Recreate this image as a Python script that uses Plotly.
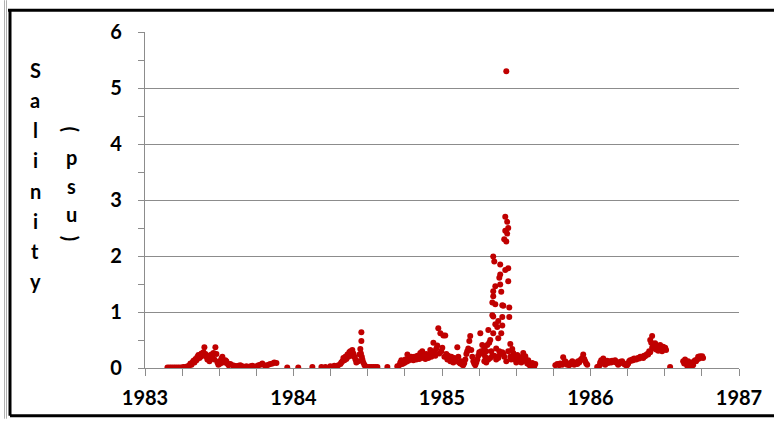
import plotly.graph_objects as go

# ---- data (decimal year, salinity psu) ----
yr_1983 = [1983.151, 1983.165, 1983.178, 1983.192, 1983.205, 1983.219, 1983.232, 1983.246,
           1983.259, 1983.273, 1983.286, 1983.300, 1983.306, 1983.313, 1983.320, 1983.326,
           1983.333, 1983.340, 1983.347, 1983.353, 1983.360, 1983.367, 1983.374, 1983.380,
           1983.387, 1983.394, 1983.400, 1983.407, 1983.414, 1983.420, 1983.427, 1983.434,
           1983.441, 1983.447, 1983.454, 1983.461, 1983.467, 1983.474, 1983.481, 1983.488,
           1983.494, 1983.501, 1983.508, 1983.515, 1983.521, 1983.528, 1983.535, 1983.541,
           1983.548, 1983.555, 1983.562, 1983.575, 1983.589, 1983.602, 1983.616, 1983.629,
           1983.642, 1983.656, 1983.669, 1983.683, 1983.696, 1983.710, 1983.723, 1983.737,
           1983.750, 1983.764, 1983.777, 1983.790, 1983.804, 1983.817, 1983.831, 1983.844,
           1983.858, 1983.871, 1983.885, 1983.958, 1984.032]
sal_1983 = [0.01, 0.01, 0.01, 0.01, 0.01, 0.01, 0.01, 0.01,
            0.02, 0.02, 0.03, 0.05, 0.08, 0.06, 0.10, 0.13,
            0.10, 0.16, 0.14, 0.20, 0.23, 0.18, 0.20, 0.26,
            0.22, 0.28, 0.37, 0.25, 0.20, 0.15, 0.22, 0.12,
            0.18, 0.24, 0.20, 0.27, 0.15, 0.37, 0.25, 0.10,
            0.06, 0.12, 0.08, 0.17, 0.20, 0.14, 0.10, 0.14,
            0.12, 0.08, 0.05, 0.07, 0.05, 0.04, 0.03, 0.04,
            0.05, 0.03, 0.02, 0.03, 0.02, 0.03, 0.04, 0.02,
            0.03, 0.05, 0.06, 0.08, 0.05, 0.04, 0.06, 0.07,
            0.08, 0.10, 0.09, 0.01, 0.01]

yr_1984 = [1984.127, 1984.188, 1984.215, 1984.248, 1984.262, 1984.275, 1984.289, 1984.302,
           1984.316, 1984.322, 1984.329, 1984.336, 1984.343, 1984.349, 1984.356, 1984.363,
           1984.369, 1984.376, 1984.383, 1984.390, 1984.396, 1984.403, 1984.410, 1984.417,
           1984.423, 1984.437, 1984.444, 1984.450, 1984.454, 1984.457, 1984.457, 1984.460,
           1984.464, 1984.470, 1984.477, 1984.484, 1984.497, 1984.511, 1984.524, 1984.538,
           1984.551, 1984.565, 1984.632]
sal_1984 = [0.02, 0.02, 0.02, 0.03, 0.02, 0.04, 0.03, 0.05,
            0.07, 0.10, 0.12, 0.18, 0.14, 0.20, 0.16, 0.24,
            0.20, 0.28, 0.30, 0.22, 0.32, 0.26, 0.20, 0.15,
            0.10, 0.12, 0.24, 0.34, 0.26, 0.64, 0.48, 0.20,
            0.15, 0.10, 0.06, 0.03, 0.02, 0.02, 0.02, 0.02,
            0.02, 0.02, 0.02]

yr_1985 = [1984.699, 1984.713, 1984.719, 1984.726, 1984.733, 1984.740, 1984.746, 1984.753,
           1984.760, 1984.767, 1984.773, 1984.780, 1984.787, 1984.793, 1984.800, 1984.807,
           1984.814, 1984.820, 1984.827, 1984.834, 1984.841, 1984.847, 1984.854, 1984.861,
           1984.867, 1984.874, 1984.881, 1984.888, 1984.894, 1984.901, 1984.908, 1984.915,
           1984.921, 1984.928, 1984.935, 1984.942, 1984.948, 1984.955, 1984.962, 1984.968,
           1984.975, 1984.982, 1984.989, 1984.995, 1985.002, 1985.009, 1985.016, 1985.022,
           1985.029, 1985.036, 1985.042, 1985.049, 1985.056, 1985.063, 1985.069, 1985.076,
           1985.083, 1985.090, 1985.096, 1985.103, 1985.110, 1985.116, 1985.123, 1985.130,
           1985.137, 1985.143, 1985.150, 1985.157, 1985.164, 1985.170, 1985.177, 1985.184,
           1985.190, 1985.197, 1985.204, 1985.211, 1985.217, 1985.224, 1985.231, 1985.238,
           1985.244, 1985.251, 1985.258, 1985.264, 1985.271, 1985.278, 1985.285, 1985.285,
           1985.291, 1985.298, 1985.298, 1985.305, 1985.312, 1985.312, 1985.318, 1985.325,
           1985.325, 1985.332, 1985.339, 1985.339, 1985.339, 1985.345, 1985.345, 1985.345,
           1985.345, 1985.345, 1985.352, 1985.352, 1985.359, 1985.359, 1985.359, 1985.365,
           1985.365, 1985.372, 1985.372, 1985.379, 1985.379, 1985.379, 1985.386, 1985.386,
           1985.392, 1985.392, 1985.392, 1985.392, 1985.399, 1985.399, 1985.406, 1985.406,
           1985.406, 1985.406, 1985.413, 1985.413, 1985.419, 1985.419, 1985.426, 1985.426,
           1985.426, 1985.433, 1985.433, 1985.433, 1985.439, 1985.439, 1985.446, 1985.446,
           1985.446, 1985.446, 1985.453, 1985.453, 1985.460, 1985.460, 1985.466, 1985.473,
           1985.480, 1985.487, 1985.493, 1985.500, 1985.507, 1985.514, 1985.520, 1985.527,
           1985.534, 1985.540, 1985.547, 1985.554, 1985.561, 1985.567, 1985.574, 1985.581,
           1985.587, 1985.594, 1985.601, 1985.608, 1985.614, 1985.621, 1985.628]
sal_1985 = [0.03, 0.05, 0.10, 0.14, 0.07, 0.12, 0.09, 0.15,
            0.11, 0.24, 0.13, 0.18, 0.15, 0.20, 0.17, 0.14,
            0.20, 0.18, 0.15, 0.22, 0.19, 0.16, 0.27, 0.21,
            0.30, 0.18, 0.22, 0.16, 0.25, 0.20, 0.18, 0.23,
            0.32, 0.20, 0.26, 0.45, 0.30, 0.22, 0.35, 0.40,
            0.71, 0.26, 0.62, 0.30, 0.36, 0.58, 0.20, 0.58,
            0.25, 0.15, 0.22, 0.18, 0.12, 0.20, 0.16, 0.10,
            0.18, 0.14, 0.12, 0.37, 0.20, 0.10, 0.08, 0.12,
            0.06, 0.05, 0.09, 0.15, 0.25, 0.30, 0.35, 0.48,
            0.57, 0.32, 0.20, 0.12, 0.08, 0.05, 0.10, 0.15,
            0.22, 0.28, 0.62, 0.30, 0.41, 0.25, 0.35, 0.12,
            0.20, 0.30, 0.10, 0.41, 0.68, 0.15, 0.45, 0.50,
            0.18, 0.30, 1.17, 0.94, 0.22, 1.99, 1.37, 1.28,
            0.92, 0.62, 1.90, 0.22, 1.46, 1.14, 0.78, 0.35,
            0.15, 0.73, 0.20, 0.84, 0.53, 0.18, 1.61, 0.30,
            1.85, 1.67, 1.49, 0.25, 1.36, 0.62, 1.12, 0.91,
            0.76, 0.28, 1.11, 0.25, 2.30, 0.20, 2.70, 2.45,
            1.75, 2.26, 5.30, 0.12, 2.61, 2.40, 2.50, 1.78,
            1.55, 0.30, 1.08, 0.91, 0.43, 0.20, 0.15, 0.34,
            0.27, 0.20, 0.15, 0.10, 0.23, 0.12, 0.18, 0.16,
            0.10, 0.20, 0.27, 0.15, 0.21, 0.12, 0.08, 0.14,
            0.06, 0.04, 0.05, 0.09, 0.02, 0.03, 0.07]

yr_1985b = [1985.763, 1985.776, 1985.789, 1985.796, 1985.810, 1985.816, 1985.823, 1985.830,
            1985.837, 1985.843, 1985.850, 1985.857, 1985.863, 1985.870, 1985.877, 1985.884,
            1985.890, 1985.897, 1985.904, 1985.911, 1985.917, 1985.924, 1985.931, 1985.937,
            1985.944, 1985.951, 1985.958, 1985.964, 1985.971, 1985.978]
sal_1985b = [0.05, 0.07, 0.05, 0.08, 0.06, 0.19, 0.10, 0.12,
             0.08, 0.06, 0.07, 0.05, 0.09, 0.07, 0.12, 0.10,
             0.06, 0.08, 0.10, 0.07, 0.12, 0.10, 0.14, 0.15,
             0.18, 0.24, 0.16, 0.12, 0.08, 0.06]

yr_1986 = [1986.045, 1986.052, 1986.059, 1986.065, 1986.072, 1986.079, 1986.086, 1986.092,
           1986.099, 1986.106, 1986.112, 1986.119, 1986.126, 1986.133, 1986.139, 1986.146,
           1986.153, 1986.160, 1986.166, 1986.173, 1986.180, 1986.186, 1986.193, 1986.200,
           1986.207, 1986.213, 1986.220, 1986.227, 1986.234, 1986.240, 1986.247, 1986.254,
           1986.260, 1986.267, 1986.274, 1986.281, 1986.287, 1986.294, 1986.301, 1986.308,
           1986.314, 1986.321, 1986.328, 1986.335, 1986.341, 1986.348, 1986.355, 1986.361,
           1986.368, 1986.375, 1986.382, 1986.388, 1986.395, 1986.402, 1986.402, 1986.409,
           1986.415, 1986.415, 1986.422, 1986.429, 1986.435, 1986.442, 1986.449, 1986.456,
           1986.462, 1986.469, 1986.476, 1986.482, 1986.489, 1986.496, 1986.503, 1986.509,
           1986.536]
sal_1986 = [0.02, 0.02, 0.04, 0.10, 0.14, 0.08, 0.17, 0.12,
            0.06, 0.10, 0.13, 0.09, 0.11, 0.12, 0.10, 0.13,
            0.12, 0.11, 0.14, 0.10, 0.09, 0.06, 0.08, 0.11,
            0.10, 0.12, 0.09, 0.07, 0.06, 0.05, 0.05, 0.08,
            0.12, 0.14, 0.13, 0.15, 0.14, 0.17, 0.16, 0.15,
            0.17, 0.18, 0.17, 0.20, 0.19, 0.20, 0.18, 0.22,
            0.21, 0.23, 0.25, 0.24, 0.30, 0.50, 0.28, 0.45,
            0.57, 0.36, 0.40, 0.35, 0.44, 0.33, 0.39, 0.31,
            0.35, 0.41, 0.33, 0.30, 0.38, 0.35, 0.36, 0.32,
            0.02]

yr_1986b = [1986.624, 1986.631, 1986.637, 1986.644, 1986.651, 1986.658, 1986.664, 1986.671,
            1986.678, 1986.684, 1986.691, 1986.698, 1986.705, 1986.711, 1986.718, 1986.725,
            1986.732, 1986.738, 1986.745, 1986.752, 1986.758]
sal_1986b = [0.12, 0.08, 0.15, 0.10, 0.04, 0.12, 0.06, 0.02,
             0.08, 0.10, 0.05, 0.12, 0.14, 0.12, 0.15, 0.20,
             0.17, 0.21, 0.19, 0.21, 0.18]

years = yr_1983 + yr_1984 + yr_1985 + yr_1985b + yr_1986 + yr_1986b
salinity = sal_1983 + sal_1984 + sal_1985 + sal_1985b + sal_1986 + sal_1986b

x_ticks = [1983, 1984, 1985, 1986, 1987]
y_ticks = [0, 1, 2, 3, 4, 5, 6]

# ---- layout geometry ----
W, H = 774, 421
ML, MR, MT, MB = 145, 35, 32, 51
PW, PH = W - ML - MR, H - MT - MB

def px(x):
    return (x - ML) / PW

def py(y):
    return (H - MB - y) / PH

FONT = "Lato"
FS = 20
GRID = "#8c8c8c"

fig = go.Figure()
fig.add_trace(go.Scatter(
    x=years, y=salinity, mode="markers",
    marker=dict(color="#C00000", size=6, line=dict(width=0)),
    showlegend=False, hoverinfo="x+y",
))

# quarter-year tick positions on x
q_vals = [1983 + 0.25 * i for i in range(17)]
q_text = [str(int(v)) if v == int(v) else "" for v in q_vals]

fig.update_xaxes(
    range=[1983, 1987], tickmode="array", tickvals=q_vals, ticktext=q_text,
    ticks="outside", ticklen=7, tickwidth=1.3, tickcolor=GRID,
    showline=True, linecolor=GRID, linewidth=1.3,
    showgrid=False, zeroline=False,
    tickfont=dict(family=FONT, size=FS, color="black", weight="bold"),
    ticklabelstandoff=5,
)
fig.update_yaxes(
    range=[0, 6], tickmode="array", tickvals=y_ticks,
    ticks="outside", ticklen=6, tickwidth=1.3, tickcolor=GRID,
    showline=True, linecolor=GRID, linewidth=1.3,
    showgrid=True, gridcolor=GRID, gridwidth=1.3, zeroline=False,
    minor=dict(tickvals=[0.5, 1.5, 2.5, 3.5, 4.5, 5.5], ticks="outside",
               ticklen=6, tickwidth=1.3, tickcolor=GRID, showgrid=False),
    tickfont=dict(family=FONT, size=FS, color="black", weight="bold"),
    ticklabelstandoff=12,
)

annotations = []
letters = list("Salinity")
for i, ch in enumerate(letters):
    annotations.append(dict(
        x=px(35), y=py(70 + i * 30.4), xref="paper", yref="paper",
        text=ch, showarrow=False, xanchor="center", yanchor="middle",
        font=dict(family=FONT, size=FS, color="black", weight="bold"),
    ))
unit = [("(", 130, 90), ("p", 158, 0), ("s", 187, 0), ("u", 215, 0), (")", 240, 90)]
for ch, yy, ang in unit:
    annotations.append(dict(
        x=px(71), y=py(yy), xref="paper", yref="paper",
        text=ch, showarrow=False, xanchor="center", yanchor="middle", textangle=ang,
        font=dict(family=FONT, size=FS, color="black", weight="bold"),
    ))

shapes = [
    # outer chart frame
    dict(type="line", xref="paper", yref="paper", x0=px(8), x1=px(774), y0=py(10), y1=py(10),
         line=dict(color="black", width=3)),
    dict(type="line", xref="paper", yref="paper", x0=px(10), x1=px(10), y0=py(10), y1=py(418),
         line=dict(color="black", width=3)),
    dict(type="line", xref="paper", yref="paper", x0=px(10), x1=px(774), y0=py(418), y1=py(418),
         line=dict(color="black", width=3)),
    dict(type="line", xref="paper", yref="paper", x0=px(4.5), x1=px(4.5), y0=py(0), y1=py(421),
         line=dict(color="#b0b0b0", width=1)),
    dict(type="line", xref="paper", yref="paper", x0=px(6.5), x1=px(6.5), y0=py(0), y1=py(421),
         line=dict(color="#b0b0b0", width=1)),
]

fig.update_layout(
    width=W, height=H, margin=dict(l=ML, r=MR, t=MT, b=MB),
    paper_bgcolor="white", plot_bgcolor="white",
    annotations=annotations, shapes=shapes,
    showlegend=False,
)

fig.write_html("out.html", config={"displayModeBar": False},
               post_script="document.body.style.margin='0px';document.body.style.overflow='hidden';")
